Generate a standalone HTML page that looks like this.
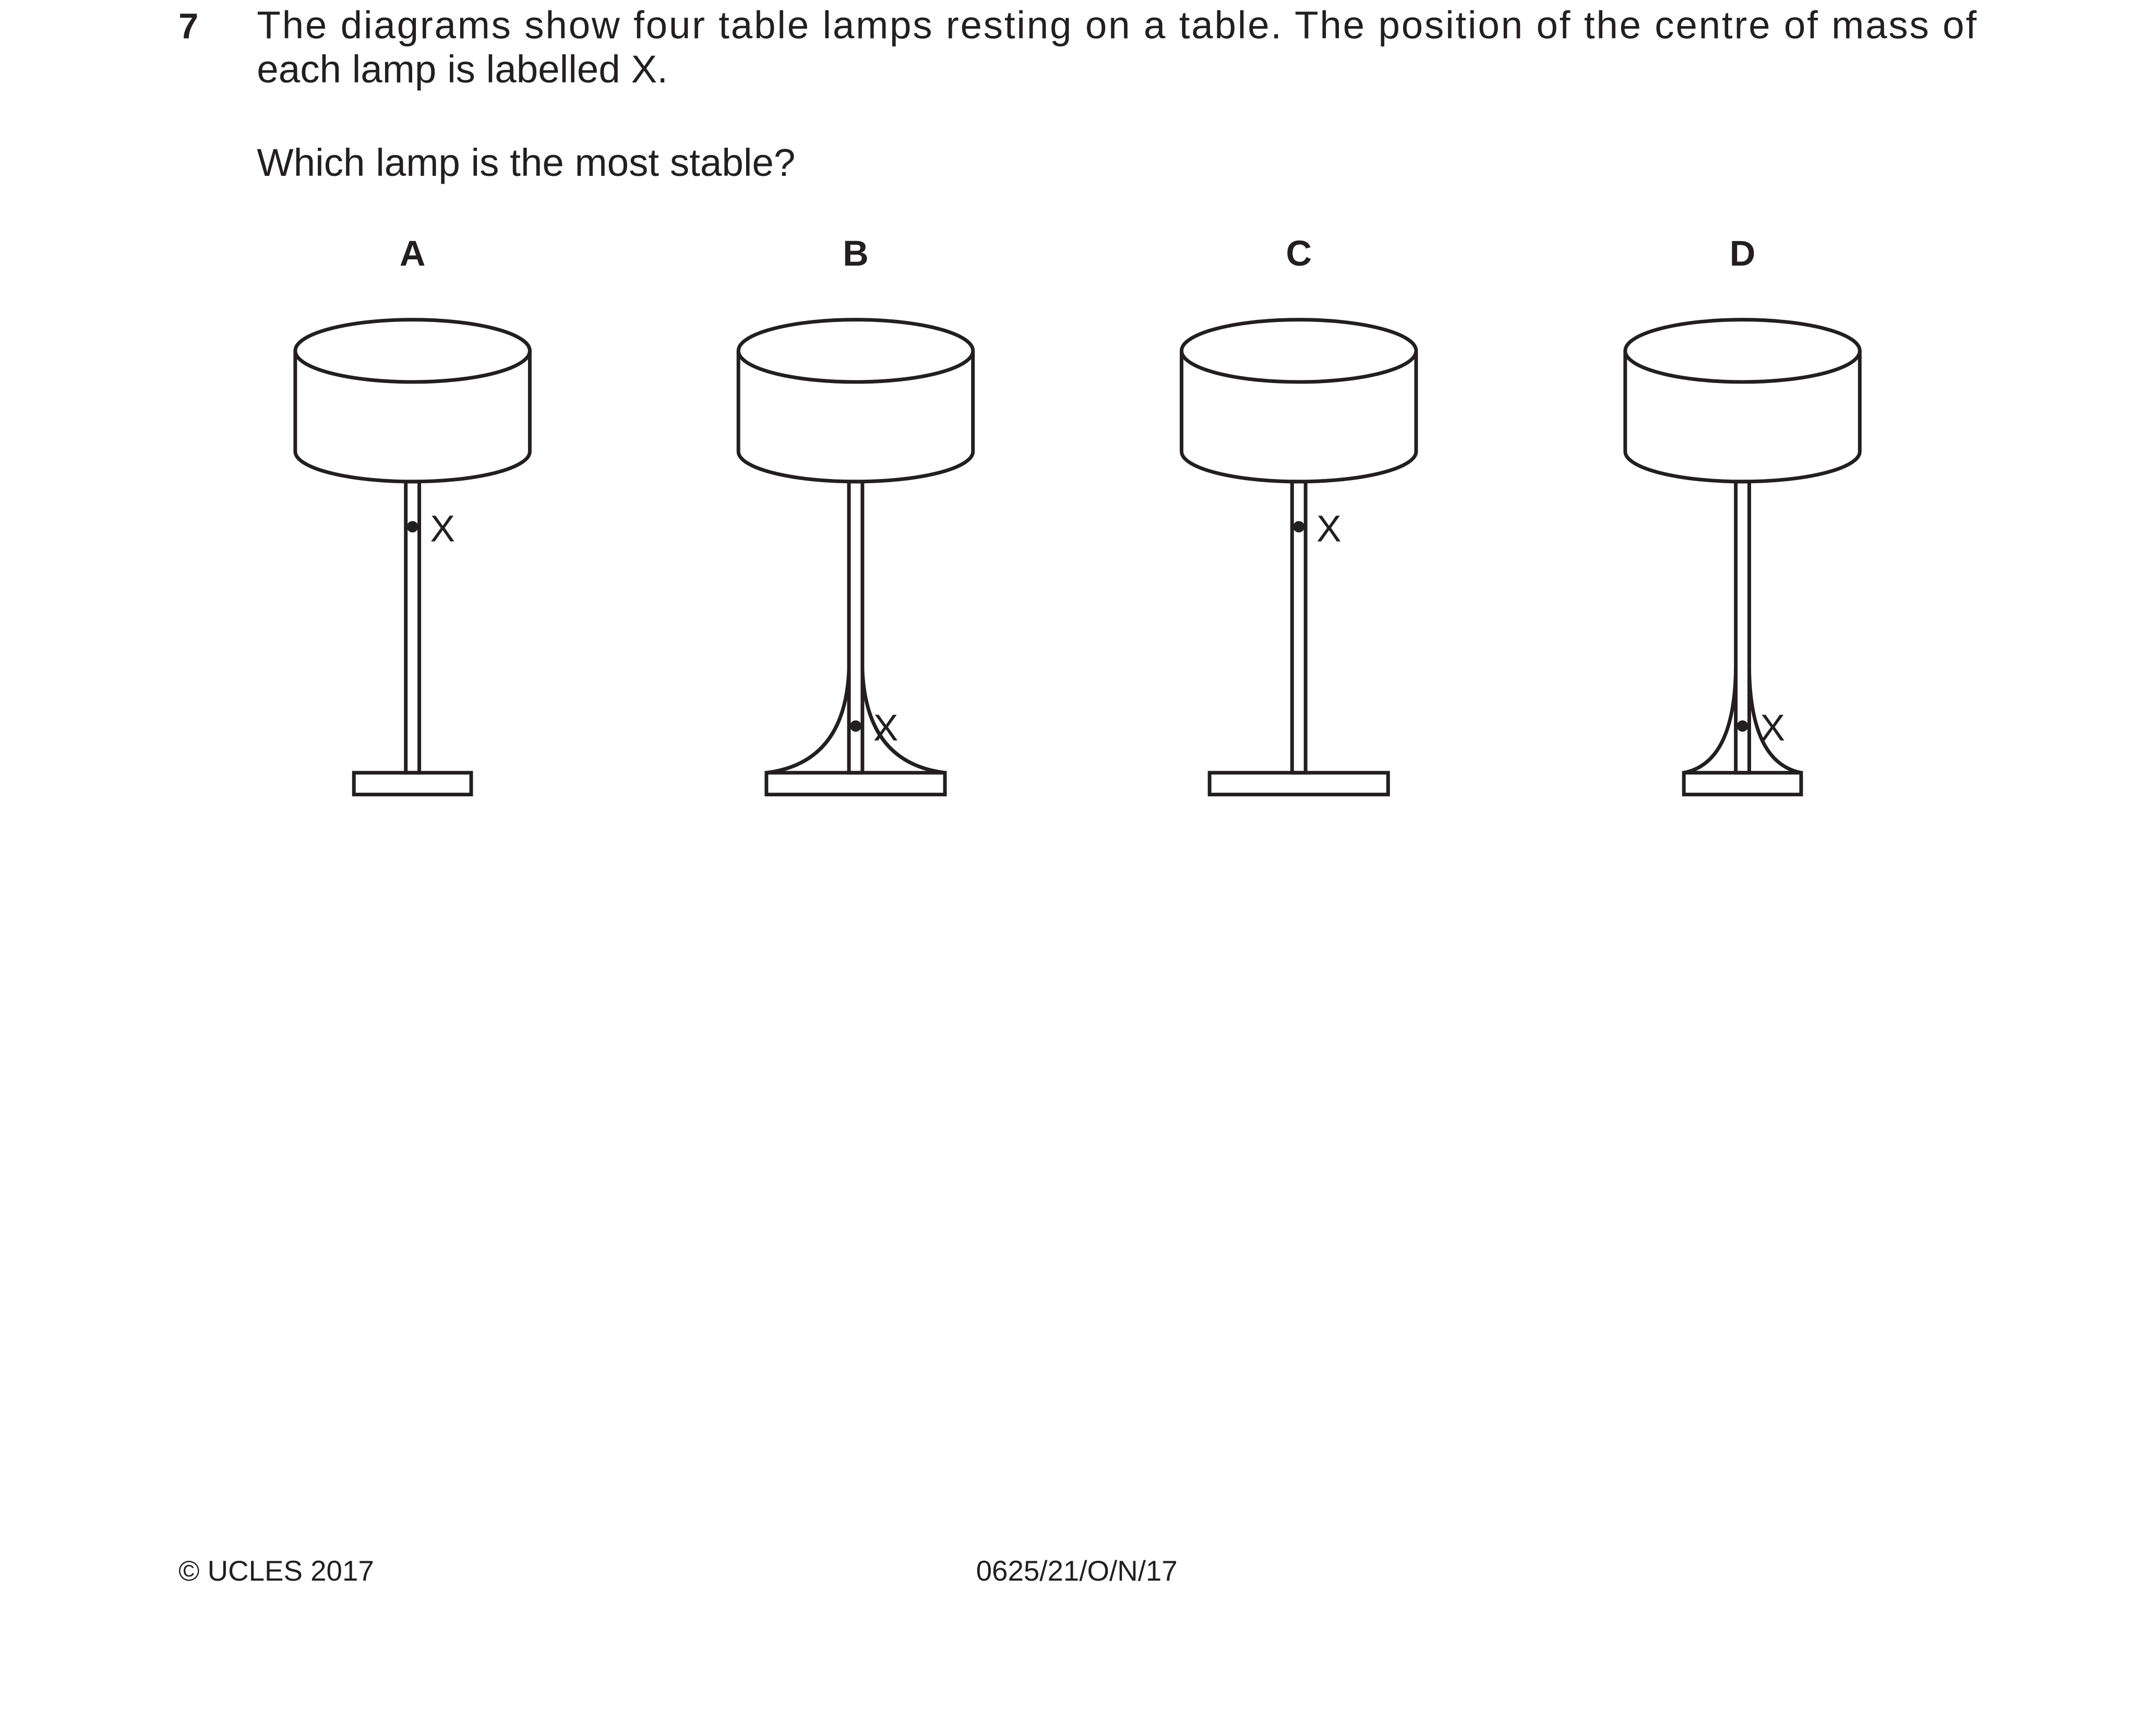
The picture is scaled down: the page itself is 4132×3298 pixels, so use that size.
<!DOCTYPE html>
<html><head><meta charset="utf-8"><style>
html,body{margin:0;padding:0;background:#fff;}
svg{display:block;}
text{font-family:"Liberation Sans",Arial,sans-serif;fill:#231f20;}
</style></head><body>
<svg id="page" width="4132" height="3298" viewBox="0 0 4132 3298">
<g transform="scale(0.9945)">
<text x="344" y="74" font-size="69" font-weight="bold">7</text>
<text x="495" y="74" font-size="75" textLength="3314" lengthAdjust="spacing">The diagrams show four table lamps resting on a table. The position of the centre of mass of</text>
<text x="495" y="159" font-size="75">each lamp is labelled X.</text>
<text x="495" y="339" font-size="75">Which lamp is the most stable?</text>
<g id="lamps"></g>
<text x="344" y="3046" font-size="55">© UCLES 2017</text>
<text x="1881" y="3046" font-size="55">0625/21/O/N/17</text>
</g>
</svg>
<script>
const labels = ['A','B','C','D'];
const centers = [795, 1649, 2503, 3358];
const baseHalf = [113, 172, 172, 113];
const comY = [1015, 1399, 1015, 1399];
const flared = [false, true, false, true];
const NS='http://www.w3.org/2000/svg';
const g=document.getElementById('lamps');
function mk(tag,attrs,parent){const e=document.createElementNS(NS,tag);for(const k in attrs)e.setAttribute(k,attrs[k]);(parent||g).appendChild(e);return e;}
const S={stroke:'#231f20','stroke-width':7,fill:'none'};
labels.forEach((L,i)=>{
  const cx=centers[i];
  const lg=mk('g',{});
  
  
  const t=mk('text',{x:cx,y:512,'font-size':69,'font-weight':'bold','text-anchor':'middle'},lg);t.textContent=L;
  
  
  const rx=226, top=676, ry=60, bot=870, by=928;
  const shade=mk('path',Object.assign({d:`M${cx-rx},${top} L${cx-rx},${bot} A${rx},${by-bot} 0 0 0 ${cx+rx},${bot} L${cx+rx},${top}`},S),lg);
  shade.setAttribute('fill','#fff');
  
  
  const el=mk('ellipse',Object.assign({cx:cx,cy:top,rx:rx,ry:ry},S),lg);
  
  
  const st=mk('rect',Object.assign({x:cx-13,y:928,width:26,height:561},S),lg);
  
  
  const bh=baseHalf[i];
  if(flared[i]){
    const cxp=bh>150?20:16;
    const f=mk('path',Object.assign({d:`M${cx-13},1290 Q${cx-cxp},1470 ${cx-bh},1489 M${cx+13},1290 Q${cx+cxp},1470 ${cx+bh},1489`},S),lg);
    
    
  }
  const b=mk('rect',Object.assign({x:cx-bh,y:1489,width:2*bh,height:42},S),lg);
  
  
  const d=mk('circle',{cx:cx,cy:comY[i],r:11,fill:'#231f20'},lg);
  
  
  const x=mk('text',{x:cx+58,y:comY[i]+28,'font-size':72,'text-anchor':'middle'},lg);x.textContent='X';
  
  
});
</script>
</body></html>
